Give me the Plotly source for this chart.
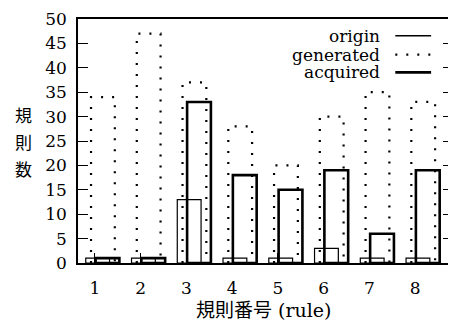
import plotly.graph_objects as go

categories = [1, 2, 3, 4, 5, 6, 7, 8]
tick_labels = ["1", "2", "3", "4", "5", "6", "7", "8"]
origin = [1, 1, 13, 1, 1, 3, 1, 1]
generated = [34, 47, 37, 28, 20, 30, 35, 33]
acquired = [1, 1, 33, 18, 15, 19, 6, 19]
y_ticks = [0, 5, 10, 15, 20, 25, 30, 35, 40, 45, 50]

SERIF = "DejaVu Serif, Liberation Serif, serif"
CJK = "DejaVu Serif, Noto Sans CJK JP, serif"

W_BAR = 0.52
OFF_O, OFF_G, OFF_A = -0.20, -0.085, 0.015

fig = go.Figure()

fig.add_trace(go.Bar(
    x=categories, y=origin, offset=OFF_O, width=W_BAR,
    marker=dict(color="rgba(0,0,0,0)", line=dict(color="black", width=1.2)),
    showlegend=False, name="origin"))

# generated: dotted outline built from the data
gx, gy = [], []
for c, v in zip(categories, generated):
    l, r = c + OFF_G, c + OFF_G + W_BAR
    gx += [l, l, r, r, None]
    gy += [0, v, v, 0, None]
fig.add_trace(go.Scatter(
    x=gx, y=gy, mode="lines", line=dict(color="black", width=2.2, dash="2px,9px"),
    showlegend=False, name="generated", hoverinfo="skip"))

fig.add_trace(go.Bar(
    x=categories, y=acquired, offset=OFF_A, width=W_BAR,
    marker=dict(color="rgba(0,0,0,0)", line=dict(color="black", width=2.6)),
    showlegend=False, name="acquired"))

# plot area in window pixels: x 78..455, y 16..263
def dx(px):
    return (px - 78) / 377

def dy(py):
    return (263 - py) / 247

# legend (text right-aligned, sample on the right)
legend_rows = [("origin", dict(width=1.5, dash="solid"), 33),
               ("generated", dict(width=2.2, dash="2px,9px"), 52),
               ("acquired", dict(width=2.8, dash="solid"), 70)]
for label, ln, py in legend_rows:
    fig.add_annotation(x=dx(384), y=dy(py), xref="x domain", yref="y domain", text=label,
                       showarrow=False, xanchor="right", yanchor="middle",
                       font=dict(family=SERIF, size=17, color="black"))
    fig.add_shape(type="line", xref="x domain", yref="y domain", x0=dx(397), x1=dx(433),
                  y0=dy(py), y1=dy(py), line=dict(color="black", **ln))

for ch, py in zip(["規", "則", "数"], [113, 140, 167]):
    fig.add_annotation(xref="x domain", yref="y domain", x=dx(23), y=dy(py), text=ch,
                       showarrow=False, xanchor="center", yanchor="middle",
                       font=dict(family="Noto Sans CJK JP", size=17, color="black"))

fig.add_annotation(xref="x domain", yref="y domain", x=dx(265),
                   y=dy(311), text="規則番号 (rule)", showarrow=False,
                   xanchor="center", yanchor="middle",
                   font=dict(family=CJK, size=19, color="black"))

fig.update_layout(
    width=448, height=318,
    margin=dict(l=70, r=1, t=8, b=63),
    paper_bgcolor="white", plot_bgcolor="white",
    barmode="overlay", showlegend=False,
    xaxis=dict(range=[0.6304, 8.826], tickmode="array", tickvals=categories,
               ticktext=tick_labels, ticks="inside", ticklen=10, tickwidth=1.2,
               tickcolor="black", showline=True, linecolor="black", linewidth=2,
               mirror=True, showgrid=False, zeroline=False, ticklabelstandoff=9,
               tickfont=dict(family=SERIF, size=17, color="black")),
    yaxis=dict(range=[0, 50], tickmode="array", tickvals=y_ticks,
               ticks="inside", ticklen=10, tickwidth=1.2, tickcolor="black",
               showline=True, linecolor="black", linewidth=1.6, mirror="ticks",
               showgrid=False, zeroline=False, ticklabelstandoff=6,
               ticklabeloverflow="allow",
               tickfont=dict(family=SERIF, size=17, color="black")),
)

fig.write_html("out.html")
